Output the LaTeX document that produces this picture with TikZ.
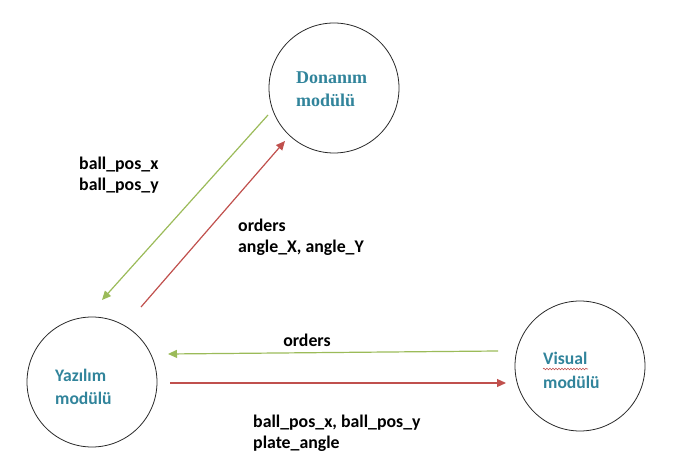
\documentclass[tikz,border=0pt]{standalone}
\usepackage{fontspec}
\setmainfont{Carlito}
\newfontfamily\serifb{Liberation Serif}
\usetikzlibrary{arrows.meta,decorations.pathmorphing}
\definecolor{ogreen}{HTML}{9BBB59}
\definecolor{ored}{HTML}{C0504D}
\definecolor{oteal}{HTML}{31849B}
\tikzset{
  module/.style={circle,draw=black!85,line width=0.8pt,minimum size=130pt,inner sep=0pt},
  modtext/.style={anchor=west,align=left,font=\fontsize{17.6}{23.5}\selectfont\bfseries,text=oteal,inner sep=0pt},
  lbl/.style={anchor=west,align=left,font=\fontsize{17.8}{21}\selectfont\bfseries,inner sep=0pt},
  gline/.style={draw=ogreen,line width=1.2pt,-{Triangle[length=9pt,width=8pt]}},
  rline/.style={draw=ored,line width=1.2pt,-{Triangle[length=9pt,width=8pt]}}
}
\begin{document}
\begin{tikzpicture}[x=1pt,y=-1pt]
\useasboundingbox (0,0) rectangle (683,470);
\node[module] (don) at (334,88) {};
\node[module] (yaz) at (92,382) {};
\node[module] (vis) at (580,366) {};
\node[modtext,font=\serifb\fontsize{18}{23}\selectfont\bfseries] (dontext) at (296,89.5) {Donanım\\modülü};
\node[modtext] (yaztext) at (55,387) {Yazılım\\modülü};
\node[modtext] (vistext) at (543,370.5) {Visual\\modülü};
\draw[ored,decorate,decoration={snake,amplitude=0.8pt,segment length=3pt},line width=0.6pt]
  (543,369) -- (588,369);
\coordinate (g1s) at (268,115);
\coordinate (g1e) at (102,300);
\coordinate (r1s) at (141,307);
\coordinate (r1e) at (285,141);
\coordinate (g2s) at (498,351);
\coordinate (g2e) at (168,354);
\coordinate (r2s) at (170,383);
\coordinate (r2e) at (506,383);
\draw[gline] (g1s) -- (g1e);
\draw[rline] (r1s) -- (r1e);
\draw[gline] (g2s) -- (g2e);
\draw[rline] (r2s) -- (r2e);
\node[lbl] (l1) at (79,175) {ball\_pos\_x\\ball\_pos\_y};
\node[lbl] (l2) at (238,237.5) {orders\\angle\_X, angle\_Y};
\node[lbl,anchor=center] (l3) at (307,340) {orders};
\node[lbl] (l4) at (253,433) {ball\_pos\_x, ball\_pos\_y\\plate\_angle};
\end{tikzpicture}
\end{document}
